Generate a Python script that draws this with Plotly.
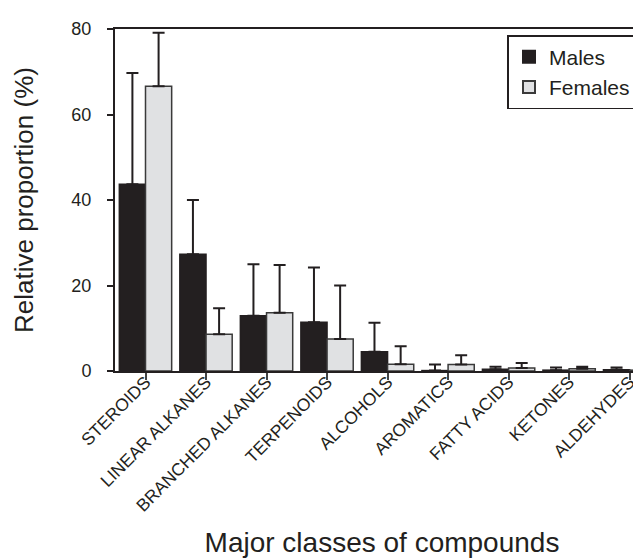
import plotly.graph_objects as go

categories = ["STEROIDS", "LINEAR ALKANES", "BRANCHED ALKANES", "TERPENOIDS",
              "ALCOHOLS", "AROMATICS", "FATTY ACIDS", "KETONES", "ALDEHYDES"]
males = [43.7, 27.3, 12.9, 11.4, 4.5, 0.1, 0.4, 0.2, 0.3]
males_err = [26.0, 12.7, 12.1, 12.8, 6.8, 1.4, 0.6, 0.6, 0.5]
females = [66.6, 8.6, 13.6, 7.5, 1.6, 1.5, 0.7, 0.5, 0.2]
females_err = [12.5, 6.1, 11.2, 12.5, 4.2, 2.2, 1.2, 0.5, 0.6]
y_ticks = [0, 20, 40, 60, 80]

INK = "#231f20"
FONT = "Liberation Sans, Arial, Helvetica, sans-serif"

fig = go.Figure()
fig.add_trace(go.Bar(
    name="Males", x=categories, y=males,
    marker=dict(color=INK, line=dict(color=INK, width=1.5)),
    error_y=dict(type="data", symmetric=False, array=males_err,
                 arrayminus=[0] * len(males), color=INK, thickness=2, width=6),
))
fig.add_trace(go.Bar(
    name="Females", x=categories, y=females,
    marker=dict(color="#e0e1e3", line=dict(color="#3a3a3a", width=1.5)),
    error_y=dict(type="data", symmetric=False, array=females_err,
                 arrayminus=[0] * len(females), color=INK, thickness=2, width=6),
))

fig.update_layout(
    width=641, height=560,
    margin=dict(l=107, r=0, t=21, b=197, autoexpand=False),
    paper_bgcolor="white", plot_bgcolor="white",
    barmode="group", bargap=0.135, bargroupgap=0,
    font=dict(family=FONT, color=INK),
    showlegend=True,
    legend=dict(x=0.735, xanchor="left", y=0.982, yanchor="top",
                bgcolor="white", bordercolor=INK, borderwidth=1.5,
                font=dict(size=21, color=INK, family=FONT),
                itemsizing="constant", itemwidth=30),
)
fig.update_xaxes(
    range=[-0.504, 8.32],
    showline=True, linecolor=INK, linewidth=2, mirror=True,
    ticks="outside", ticklen=7, tickwidth=1.5, tickcolor="#444",
    tickangle=-45, tickfont=dict(size=17.5, color=INK, family=FONT),
    ticklabelstandoff=-15,
    showgrid=False, zeroline=False,
    title=dict(text="Major classes of compounds",
               font=dict(size=28, color=INK, family=FONT), standoff=18),
)
fig.update_yaxes(
    range=[0, 80], tickvals=y_ticks,
    showline=True, linecolor=INK, linewidth=2,
    ticks="outside", ticklen=6, tickwidth=2, tickcolor=INK,
    tickfont=dict(size=18, color=INK, family=FONT),
    ticklabelstandoff=12,
    showgrid=False, zeroline=False,
    title=dict(text="Relative proportion (%)",
               font=dict(size=26, color=INK, family=FONT), standoff=30),
)

fig.write_html("out.html")
